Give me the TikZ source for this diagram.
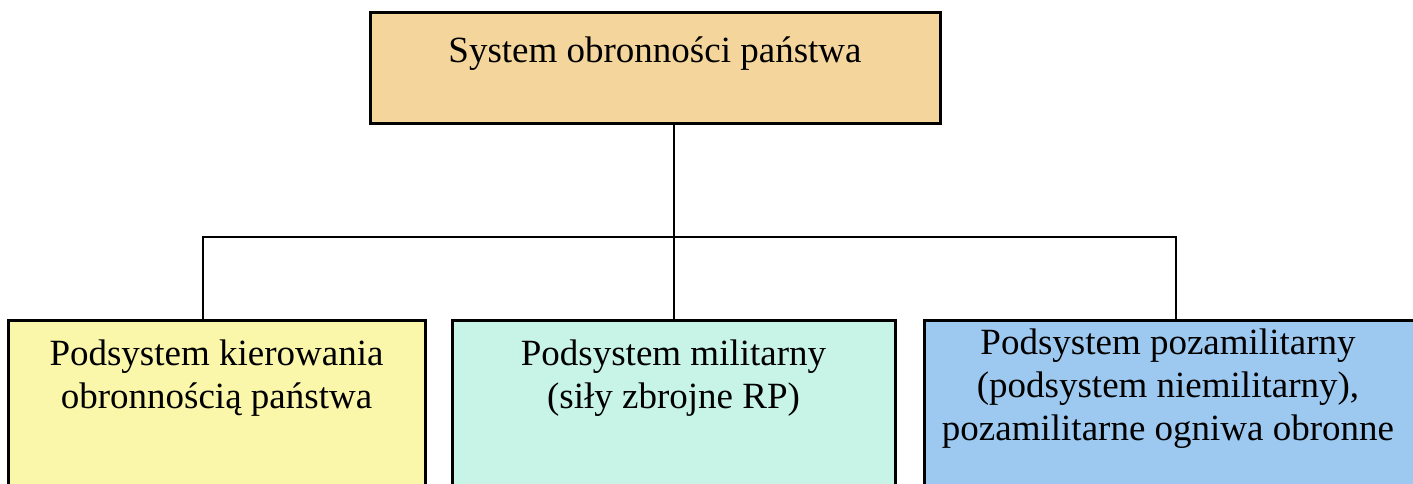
\documentclass[tikz,border=0pt]{standalone}
\usepackage{fontspec}
\setmainfont{Liberation Serif}
\definecolor{topc}{RGB}{244,213,155}
\definecolor{leftc}{RGB}{250,246,170}
\definecolor{midc}{RGB}{200,244,232}
\definecolor{rightc}{RGB}{157,201,240}
\tikzset{
  box/.style={draw=black, line width=3pt, rectangle, inner sep=0pt},
  lbl/.style={anchor=base, align=center, inner sep=0pt, font=\fontsize{37}{43}\selectfont},
  conn/.style={draw=black, line width=2pt}
}
\begin{document}
\begin{tikzpicture}[x=1pt,y=-1pt]
\useasboundingbox (0,0) rectangle (1413,484);
\fill[white] (0,0) rectangle (1413,484);
\begin{scope}
\clip (0,0) rectangle (1413,484);
\node[box, fill=topc, minimum width=570pt, minimum height=111pt] (top) at (655,68.5) {};
\node[box, fill=leftc, minimum width=417pt, minimum height=180pt] (left) at (216.5,410) {};
\node[box, fill=midc, minimum width=443pt, minimum height=180pt] (mid) at (673.5,410) {};
\node[box, fill=rightc, minimum width=501pt, minimum height=180pt] (right) at (1174.5,410) {};
\node[lbl] (toptext) at (655,63) {System obronności państwa};
\node[lbl] (lefttext) at (216.5,408) {Podsystem kierowania\\obronnością państwa};
\node[lbl] (midtext) at (673.5,408) {Podsystem militarny\\(siły zbrojne RP)};
\node[lbl] (righttext) at (1168,440) {Podsystem pozamilitarny\\(podsystem niemilitarny),\\pozamilitarne ogniwa obronne};
\coordinate (hl) at (203,237);
\coordinate (hr) at (1176,237);
\draw[conn] (top.south -| mid.north) -- (mid.north);
\draw[conn] (left.north -| hl) -- (hl) -- (hr) -- (right.north -| hr);
\end{scope}
\end{tikzpicture}
\end{document}
